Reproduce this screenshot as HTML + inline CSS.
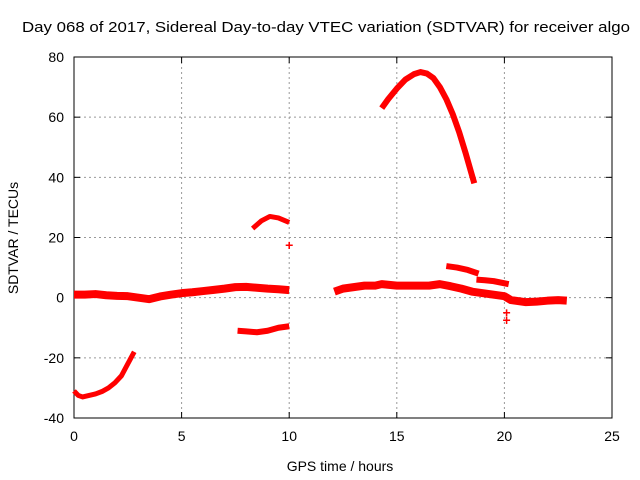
<!DOCTYPE html>
<html><head><meta charset="utf-8"><style>body{margin:0;background:#fff}svg{display:block;font-family:"Liberation Sans",sans-serif}</style></head>
<body>
<svg id="c" width="640" height="480"></svg>
<script>
const xTicks=[0,5,10,15,20,25];
const yTicks=[-40,-20,0,20,40,60,80];
const segA_x=[0,0.2,0.4,0.7,1,1.3,1.6,1.9,2.2,2.5,2.8];
const segA_y=[-31,-32.5,-33,-32.5,-32,-31.2,-30,-28.3,-26,-22,-18];
const segB_x=[0,0.5,1,1.5,2,2.5,3,3.5,4,4.5,5,5.5,6,6.5,7,7.5,8,8.5,9,9.5,10];
const segB_y=[1,1,1.2,0.8,0.6,0.5,0,-0.5,0.4,1,1.5,1.8,2.2,2.6,3,3.5,3.6,3.3,3,2.8,2.5];
const segC_x=[7.6,8,8.5,9,9.5,10];
const segC_y=[-11,-11.2,-11.5,-11,-10,-9.5];
const segD_x=[8.3,8.7,9.1,9.5,10];
const segD_y=[23,25.5,27,26.5,25];
const segE_x=[12.1,12.5,13,13.5,14,14.3,15,15.5,16,16.5,17,17.5,18,18.5,19,19.5,20,20.3,21,21.5,22,22.5,22.9];
const segE_y=[2,3,3.5,4,4,4.5,4,4,4,4,4.5,3.8,3,2,1.5,1,0.5,-0.8,-1.5,-1.3,-1,-0.8,-1];
const segF_x=[17.3,17.8,18.3,18.8];
const segF_y=[10.5,10,9.2,8];
const segG_x=[18.7,19.1,19.5,20.2];
const segG_y=[6,5.8,5.5,4.5];
const segH_x=[14.3,14.6,15,15.4,15.8,16.1,16.4,16.7,17,17.3,17.6,17.9,18.2,18.6];
const segH_y=[63,66,69.5,72.5,74.3,75,74.5,73,70,66,61,55,48,38];
const ptX=[10,20.1,20.1];
const ptY=[17.5,-5,-7.5];
const L=74,R=612,T=57,B=418;
const X=v=>L+(v-0)/25*(R-L);
const Y=v=>B-(v+40)/120*(B-T);
const s=document.getElementById('c');
const NS='http://www.w3.org/2000/svg';
function mk(t,a,p){const e=document.createElementNS(NS,t);for(const k in a)e.setAttribute(k,a[k]);(p||s).appendChild(e);return e;}
function tx(x,y,str,anchor){const e=mk('text',{x:x,y:y,'font-size':14,fill:'#000','text-anchor':anchor||'middle'});e.textContent=str;return e;}
xTicks.forEach(v=>{
 if(v>0&&v<25){const g=mk('line',{x1:X(v),x2:X(v),y1:T,y2:B,stroke:'#999','stroke-dasharray':'2,3'});
 
 }
 mk('line',{x1:X(v),x2:X(v),y1:B,y2:B-6,stroke:'#000'});mk('line',{x1:X(v),x2:X(v),y1:T,y2:T+6,stroke:'#000'});
 const t=tx(X(v),B+23,String(v));
 
 
});
yTicks.forEach(v=>{
 if(v>-40&&v<80){const g=mk('line',{x1:L,x2:R,y1:Y(v),y2:Y(v),stroke:'#999','stroke-dasharray':'2,3'});
 
 }
 mk('line',{x1:L,x2:L+6,y1:Y(v),y2:Y(v),stroke:'#000'});mk('line',{x1:R,x2:R-6,y1:Y(v),y2:Y(v),stroke:'#000'});
 const t=tx(L-10,Y(v)+5,String(v),'end');
 
 
});
const fr=mk('rect',{x:L,y:T,width:R-L,height:B-T,fill:'none',stroke:'#000'});


function seg(xs,ys,w,name){const p=mk('polyline',{points:xs.map((x,i)=>X(x)+','+Y(ys[i])).join(' '),fill:'none',stroke:'#f00','stroke-width':w,'stroke-linejoin':'round','stroke-linecap':'butt'});
 
 }
seg(segA_x,segA_y,5,'series-segment-a');
seg(segB_x,segB_y,8,'series-segment-b');
seg(segC_x,segC_y,6,'series-segment-c');
seg(segD_x,segD_y,5,'series-segment-d');
seg(segE_x,segE_y,8,'series-segment-e');
seg(segF_x,segF_y,6,'series-segment-f');
seg(segG_x,segG_y,6,'series-segment-g');
seg(segH_x,segH_y,6,'series-segment-h');
ptX.forEach((x,i)=>{const t=mk('text',{x:X(x),y:Y(ptY[i])+5,'font-size':14,'font-weight':'bold',fill:'#f00','text-anchor':'middle'});t.textContent='+';
 
 });
let t=tx(22,32,'Day 068 of 2017, Sidereal Day-to-day VTEC variation (SDTVAR) for receiver algo','start');
t.setAttribute('textLength','608');
t.setAttribute('lengthAdjust','spacingAndGlyphs');
t.setAttribute('font-size','15');


t=tx(340,471,'GPS time / hours');


t=tx(0,0,'SDTVAR / TECUs');t.setAttribute('transform','translate(18,238) rotate(-90)');


</script>
</body></html>
